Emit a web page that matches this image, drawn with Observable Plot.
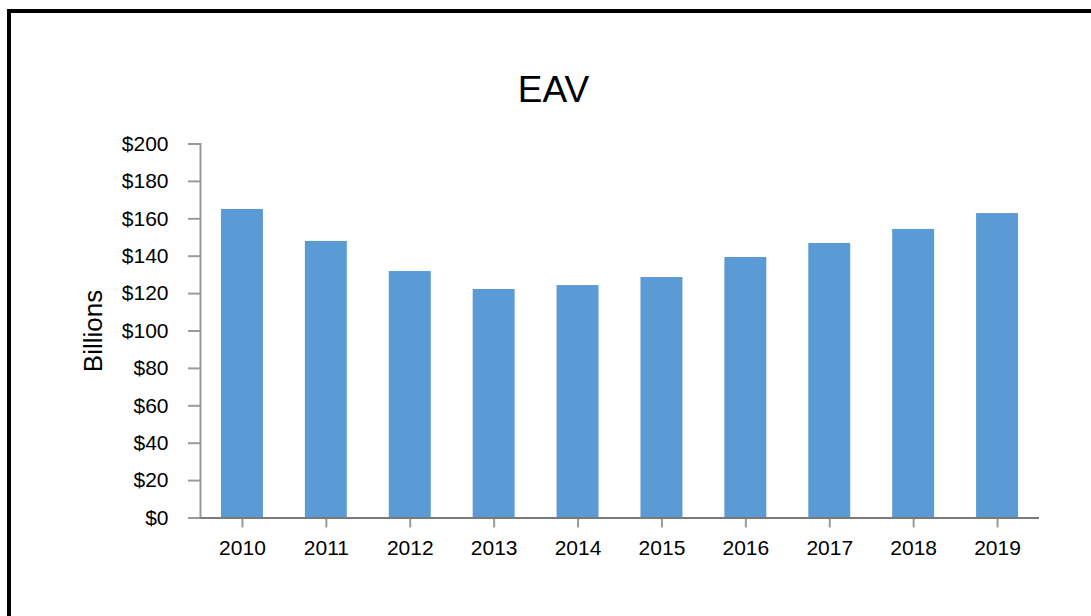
<!DOCTYPE html>
<html>
<head>
<meta charset="utf-8">
<script src="https://cdn.jsdelivr.net/npm/d3@7"></script>
<script src="https://cdn.jsdelivr.net/npm/@observablehq/plot@0.6"></script>
<style>
  html, body { margin: 0; padding: 0; background: #fff; }
  #wrap { position: relative; width: 1091px; height: 616px; overflow: hidden; font-family: "Liberation Sans", Arial, sans-serif; }
  #border { position: absolute; left: 7px; top: 9px; width: 1200px; height: 700px; border: 4px solid #000; box-sizing: border-box; }
  #title { position: absolute; left: 0; width: 1107px; top: 71px; text-align: center; font-size: 37px; line-height: 37px; color: #000; }
  #chart { position: absolute; left: 0; top: 0; }
</style>
</head>
<body>
<div id="wrap">
  <div id="border"></div>
  <div id="chart"></div>
  <div id="title">EAV</div>
</div>
<script>
const years = ["2010", "2011", "2012", "2013", "2014", "2015", "2016", "2017", "2018", "2019"];
const values = [165.0, 147.9, 131.8, 122.2, 124.3, 128.6, 139.3, 146.8, 154.3, 162.8];
const yTicks = [0, 20, 40, 60, 80, 100, 120, 140, 160, 180, 200];
const yLabel = "Billions";

const data = years.map((year, i) => ({year, value: values[i]}));

const chart = Plot.plot({
  width: 1091,
  height: 616,
  marginLeft: 200,
  marginRight: 52,
  marginTop: 143.5,
  marginBottom: 98.5,
  style: { fontFamily: "'Liberation Sans', Arial, sans-serif", fontSize: "21px", color: "#000", background: "transparent", overflow: "visible" },
  x: { domain: years, paddingInner: 0.5, paddingOuter: 0.25, round: false, label: null },
  y: { domain: [0, 200], label: null },
  marks: [
    Plot.barY(data, { x: "year", y: "value", fill: "#5B9BD5" }),
    Plot.frame({ anchor: "left", stroke: "#9a9a9a", strokeWidth: 2 }),
    Plot.axisY({ ticks: yTicks, tickFormat: d => "$" + d, tickSize: 12, tickPadding: 20, stroke: "#9a9a9a", strokeWidth: 2, fill: "#000", label: null }),
    Plot.axisX({ tickSize: 10, tickPadding: 12, stroke: "#9a9a9a", strokeWidth: 2, fill: "#000", label: null }),
    Plot.ruleY([0], { stroke: "#7a7a7a", strokeWidth: 2 }),
    Plot.text([yLabel], { text: d => d, frameAnchor: "left", textAnchor: "middle", rotate: -90, dx: -107, fontSize: 26, fill: "#000" })
  ]
});
document.getElementById("chart").appendChild(chart);
</script>
</body>
</html>
